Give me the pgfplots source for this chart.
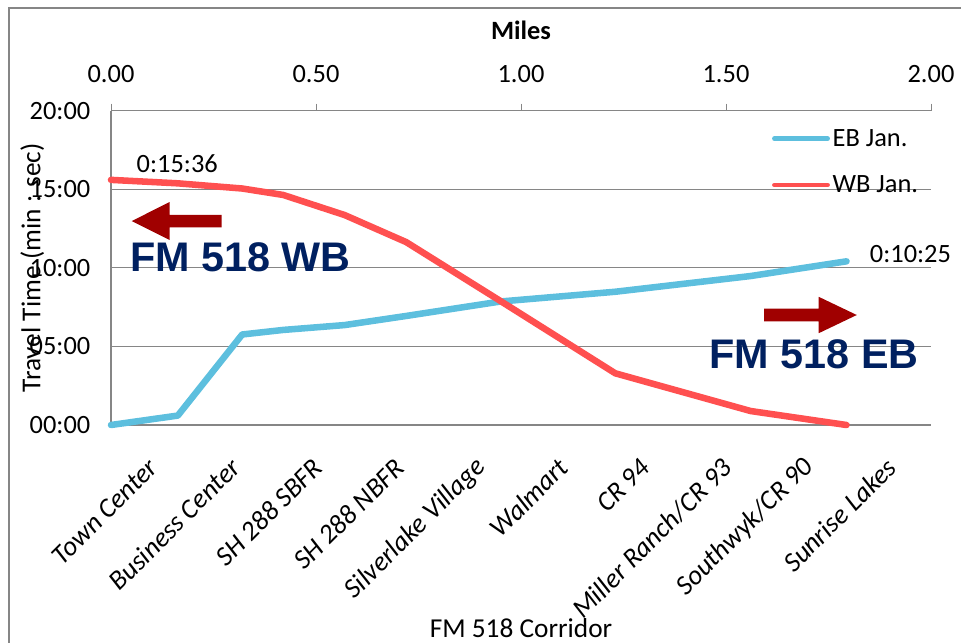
\documentclass[border=0pt]{standalone}
\usepackage{fontspec}
\setmainfont{Carlito}
\newfontfamily\arialfont{Liberation Sans}
\usepackage{pgfplots}
\usepackage{pgfplotstable}
\pgfplotsset{compat=1.18}

\definecolor{ebblue}{RGB}{93,191,222}
\definecolor{wbred}{RGB}{255,80,80}
\definecolor{arrowred}{RGB}{160,0,0}
\definecolor{navy}{RGB}{0,32,96}
\definecolor{gridgray}{RGB}{134,134,134}

% Cumulative travel time (minutes) against distance along the corridor (miles)
\pgfplotstableread{
miles   eb       wb
0.000   0.00     15.60
0.163   0.60     15.38
0.320   5.76     15.05
0.420   6.05     14.64
0.570   6.36     13.36
0.720   6.94     11.64
0.950   7.86     7.89
1.230   8.48     3.29
1.560   9.48     0.89
1.794   10.4167  0.00
}\corridor

\newcommand\lblfont{\fontsize{19.8}{23}\selectfont}
\newcommand\catfont{\fontsize{20.5}{24}\selectfont}
\newcommand\bigfont{\arialfont\bfseries\fontsize{31}{37}\selectfont}

\begin{document}
\begin{tikzpicture}[x=1pt,y=1pt]
\useasboundingbox (0,0) rectangle (720.75,482.25);
% chart frame
\draw[gridgray, line width=1.1pt] (6.75,-10) -- (6.75,476.25) -- (740,476.25);

% main axis: travel time against corridor stops
\begin{axis}[
  at={(83.25pt,163.5pt)}, anchor=south west,
  scale only axis, width=615pt, height=235.7pt,
  xmin=0, xmax=2, ymin=0, ymax=20,
  clip=false,
  axis x line*=bottom, axis y line*=left,
  axis line style={gridgray, line width=0.9pt, -},
  ymajorgrids, grid style={gridgray, line width=0.75pt},
  major tick length=0pt,
  ytick={0,5,10,15,20},
  yticklabels={00:00,05:00,10:00,15:00,20:00},
  yticklabel style={font=\lblfont, xshift=-12pt},
  xtick={0.1,0.3,0.5,0.7,0.9,1.1,1.3,1.5,1.7,1.9},
  xticklabels={Town Center,Business Center,SH 288 SBFR,SH 288 NBFR,Silverlake Village,Walmart,CR 94,Miller Ranch/CR 93,Southwyk/CR 90,Sunrise Lakes},
  xticklabel style={font=\catfont\itshape, rotate=45, anchor=east, xshift=-16pt, yshift=-21pt},
  xlabel={FM 518 Corridor},
  every axis x label/.style={at={(axis description cs:0.5,0)}, anchor=center, yshift=-152pt, font=\catfont},
  ylabel={Travel Time (min : sec)},
  every axis y label/.style={at={([xshift=-59pt]axis description cs:0,0.5)}, anchor=center, rotate=90, font=\catfont},
  legend style={at={(0.801,0.959)}, anchor=north west, draw=none, fill=none,
    font=\lblfont, row sep=16.5pt, nodes={inner sep=2pt}},
  legend cell align=left,
  legend image code/.code={\draw[#1, line width=3.4pt] (0pt,0pt) -- (40pt,0pt);},
]
\addplot[ebblue, line width=4.9pt, line cap=round, line join=round] table[x=miles, y=eb] {\corridor};
\addlegendentry{EB Jan.}
\addplot[wbred, line width=4.9pt, line cap=round, line join=round] table[x=miles, y=wb] {\corridor};
\addlegendentry{WB Jan.}

% data labels on the end points
\node[anchor=base west, font=\lblfont, xshift=15.75pt, yshift=5.25pt] at (axis cs:0,15.6) {0:15:36};
\node[anchor=base west, font=\lblfont, xshift=14pt, yshift=-1pt] at (axis cs:1.794,10.4167) {0:10:25};

% direction arrows
\fill[arrowred] (axis cs:0.0505,12.98) -- (axis cs:0.143,14.19) -- (axis cs:0.143,13.38)
  -- (axis cs:0.270,13.38) -- (axis cs:0.270,12.58) -- (axis cs:0.143,12.58)
  -- (axis cs:0.143,11.77) -- cycle;
\fill[arrowred] (axis cs:1.819,7.00) -- (axis cs:1.726,8.16) -- (axis cs:1.726,7.40)
  -- (axis cs:1.593,7.40) -- (axis cs:1.593,6.60) -- (axis cs:1.726,6.60)
  -- (axis cs:1.726,5.84) -- cycle;
\node[anchor=base west, inner sep=0pt, text=navy, font=\bigfont] at (axis cs:0.046,9.755) {FM 518 WB};
\node[anchor=base west, inner sep=0pt, text=navy, font=\bigfont] at (axis cs:1.459,3.61) {FM 518 EB};
\end{axis}

% secondary axis along the top: distance in miles
\begin{axis}[
  at={(83.25pt,163.5pt)}, anchor=south west,
  scale only axis, width=615pt, height=235.7pt,
  xmin=0, xmax=2, ymin=0, ymax=20,
  axis x line*=top, axis y line=none,
  axis line style={draw=none},
  tick align=outside, major tick length=5.25pt,
  tick style={gridgray, line width=0.75pt},
  xtick={0,0.5,1,1.5,2},
  xticklabels={0.00,0.50,1.00,1.50,2.00},
  xticklabel style={font=\lblfont, yshift=12pt},
  xlabel={Miles},
  every axis x label/.style={at={(axis description cs:0.5,1)}, anchor=center, yshift=60pt, font=\lblfont\bfseries},
]
\end{axis}
\end{tikzpicture}
\end{document}
